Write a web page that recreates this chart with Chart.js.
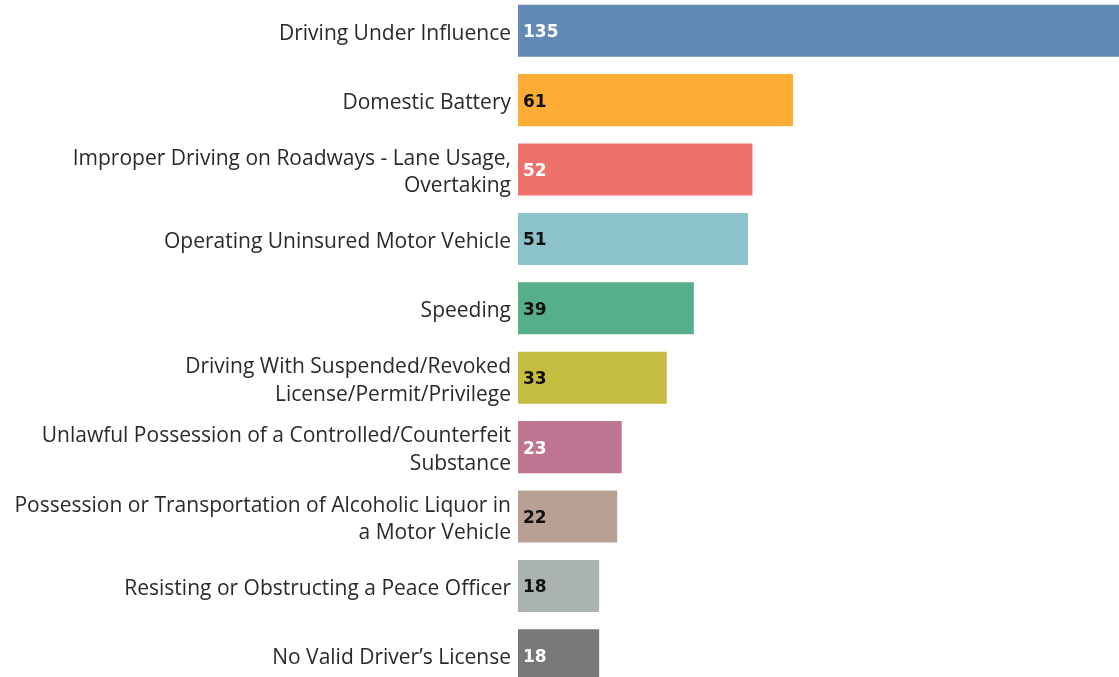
<!DOCTYPE html>
<html>
<head>
<meta charset="utf-8">
<script src="https://cdn.jsdelivr.net/npm/chart.js@4.4.1/dist/chart.umd.min.js"></script>
<style>
  html, body { margin: 0; padding: 0; background: #fff; overflow: hidden; }
  #wrap { position: absolute; left: 0; top: -4px; width: 1119px; height: 694px; }
</style>
</head>
<body>
<div id="wrap"><canvas id="offenseChart"></canvas></div>
<script>
  const offenses = [
    "Driving Under Influence",
    "Domestic Battery",
    ["Improper Driving on Roadways - Lane Usage,", "Overtaking"],
    "Operating Uninsured Motor Vehicle",
    "Speeding",
    ["Driving With Suspended/Revoked", "License/Permit/Privilege"],
    ["Unlawful Possession of a Controlled/Counterfeit", "Substance"],
    ["Possession or Transportation of Alcoholic Liquor in", "a Motor Vehicle"],
    "Resisting or Obstructing a Peace Officer",
    "No Valid Driver\u2019s License"
  ];
  const counts = [135, 61, 52, 51, 39, 33, 23, 22, 18, 18];

  const barColors = ['#6389b5', '#fdad35', '#ef716b', '#8cc2ca', '#57ae8b',
                     '#c5bd40', '#bd7592', '#b9a094', '#aab3ad', '#787878'];
  const valueColors = ['#fff', '#111', '#fff', '#111', '#111',
                       '#111', '#fff', '#111', '#111', '#fff'];

  // writes the count just inside the start of each bar
  const valueLabels = {
    id: 'valueLabels',
    afterDatasetsDraw(chart) {
      const ctx = chart.ctx;
      const meta = chart.getDatasetMeta(0);
      ctx.save();
      ctx.font = 'bold 17px "DejaVu Sans"';
      ctx.textAlign = 'left';
      ctx.textBaseline = 'middle';
      meta.data.forEach((bar, i) => {
        ctx.fillStyle = valueColors[i];
        ctx.fillText(String(counts[i]), bar.base + 5, bar.y + 2);
      });
      ctx.restore();
    }
  };

  const ctx = document.getElementById("offenseChart").getContext("2d");
  window.offenseChart = new Chart(ctx, {
    type: 'bar',
    data: {
      labels: offenses,
      datasets: [{
        data: counts,
        backgroundColor: barColors,
        borderWidth: 0,
        barPercentage: 1,
        categoryPercentage: 0.75
      }]
    },
    options: {
      indexAxis: 'y',
      responsive: true,
      maintainAspectRatio: false,
      animation: false,
      layout: { padding: 0 },
      plugins: {
        legend: { display: false },
        tooltip: { enabled: false }
      },
      scales: {
        x: {
          display: false,
          min: 0,
          max: 133.3
        },
        y: {
          afterFit(scale) {
            // fixed gutter for the names, no extra room above/below the bands
            scale.width = 518;
            scale.paddingTop = 0;
            scale.paddingBottom = 0;
          },
          grid: { display: false, drawTicks: false },
          border: { display: false },
          ticks: {
            padding: 7,
            labelOffset: 3,
            color: '#2a2a2a',
            font: { family: '"Open Sans"', size: 21, lineHeight: 1.32 }
          }
        }
      }
    },
    plugins: [valueLabels]
  });
</script>
</body>
</html>
